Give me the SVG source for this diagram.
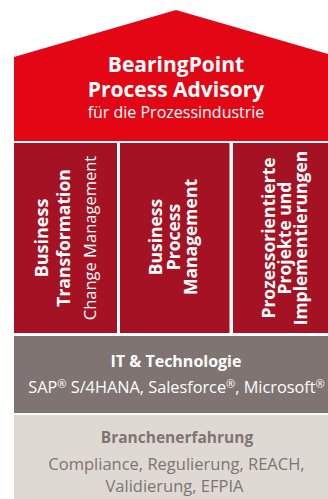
<svg xmlns="http://www.w3.org/2000/svg" width="328" height="499" viewBox="0 0 328 499">
  <style>
    text { font-family: "Open Sans", "Noto Sans", "DejaVu Sans", sans-serif; text-anchor: middle; }
    .w { fill: #ffffff; }
    .g { fill: #7f7471; }
    .b { font-weight: 700; }
    .roof { fill: #e30614; }
    .pillar { fill: #a51224; }
    .it { fill: #7f7471; }
    .ind { fill: #dedad3; }
    .reg { font-size: 0.68em; }
  </style>
  <rect width="328" height="499" fill="#ffffff"/>

  <!-- roof -->
  <g id="roof">
    <polygon class="roof" points="14,141 14,57 176,10 328,54.1 328,141"/>
    <text class="w b" x="176" y="72" font-size="21">BearingPoint</text>
    <text class="w b" x="176" y="97" font-size="21">Process Advisory</text>
    <text class="w" x="176" y="118" font-size="16">für die Prozessindustrie</text>
  </g>

  <!-- pillars -->
  <g id="pillar-transformation">
    <rect class="pillar" x="14" y="143" width="103" height="190"/>
    <g transform="translate(0,238) rotate(-90)">
      <text class="w b" x="0" y="48" font-size="18">Business</text>
      <text class="w b" x="0" y="70" font-size="17.5">Transformation</text>
      <text class="w" x="0" y="96" font-size="16.5">Change Management</text>
    </g>
  </g>

  <g id="pillar-bpm">
    <rect class="pillar" x="120" y="143" width="109.5" height="190"/>
    <g transform="translate(0,237) rotate(-90)">
      <text class="w b" x="0" y="162" font-size="17.5">Business</text>
      <text class="w b" x="0" y="180" font-size="17.5">Process</text>
      <text class="w b" x="0" y="197" font-size="17.5">Management</text>
    </g>
  </g>

  <g id="pillar-projects">
    <rect class="pillar" x="233" y="143" width="95" height="190"/>
    <g transform="translate(0,238) rotate(-90)">
      <text class="w b" x="0" y="275" font-size="17.5">Prozessorientierte</text>
      <text class="w b" x="0" y="291" font-size="17.5">Projekte und</text>
      <text class="w b" x="0" y="307" font-size="17.5">Implementierungen</text>
    </g>
  </g>

  <!-- IT foundation -->
  <g id="it-technologie">
    <rect class="it" x="14" y="336" width="314" height="77"/>
    <text class="w b" x="176" y="367" font-size="16">IT &amp; Technologie</text>
    <text class="w" x="176.5" y="393" font-size="16.3">SAP<tspan class="reg" dy="-5">®</tspan><tspan dy="5"> S/4HANA, Salesforce</tspan><tspan class="reg" dy="-5">®</tspan><tspan dy="5">, Microsoft</tspan><tspan class="reg" dy="-5">®</tspan></text>
  </g>

  <!-- industry foundation -->
  <g id="branchenerfahrung">
    <rect class="ind" x="14" y="415" width="314" height="84"/>
    <text class="g b" x="177" y="443" font-size="15.5">Branchenerfahrung</text>
    <text class="g" x="176.5" y="470" font-size="16.5">Compliance, Regulierung, REACH,</text>
    <text class="g" x="174.5" y="492" font-size="16.5">Validierung, EFPIA</text>
  </g>
</svg>
